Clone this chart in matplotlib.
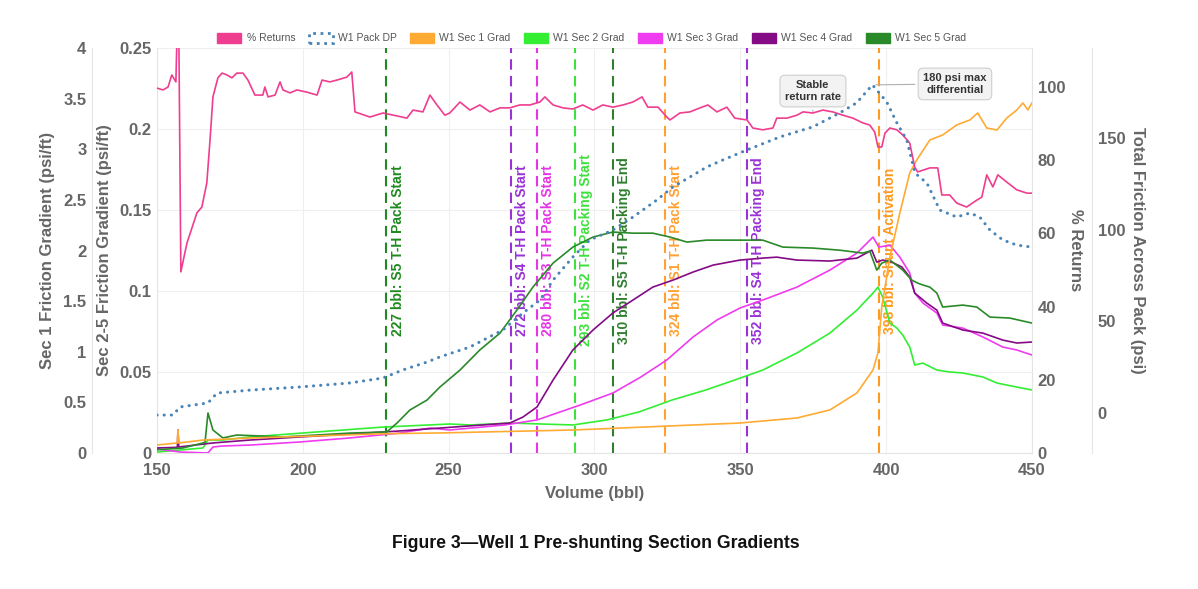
import matplotlib
matplotlib.use("Agg")
import matplotlib.pyplot as plt
from matplotlib.patches import Patch
from matplotlib.ticker import FuncFormatter

plt.rcParams['font.family'] = ['Liberation Sans', 'DejaVu Sans']

# ---- data ----
returns_vol = [150, 152.1, 153.8, 155.1, 156.5, 156.9, 157.5, 158.2, 160.3, 163.7, 165.4, 167.1, 168.2, 169.2,
               170.9, 172.3, 174.0, 175.7, 177.4, 179.5, 181.2, 183.6, 186.3, 187.0, 188.1, 190.5, 192.2, 193.2,
               195.6, 198.0, 201.4, 204.9, 206.6, 209.3, 211.7, 215.1, 216.8, 217.9, 223.0, 227.5, 232.3, 235.7,
               237.8, 241.2, 243.6, 246.0, 248.7, 250.4, 253.9, 257.3, 260.7, 264.2, 267.6, 271.0, 274.4, 277.9,
               281.3, 283.0, 285.8, 289.2, 292.6, 296.0, 299.5, 302.9, 306.3, 309.8, 313.2, 316.3, 318.3, 321.8,
               324.8, 325.9, 329.3, 332.7, 336.2, 338.9, 342.0, 345.4, 348.1, 352.3, 354.3, 357.7, 361.2, 362.5,
               366.0, 369.4, 371.5, 374.9, 378.3, 381.7, 385.2, 388.6, 392.0, 394.4, 396.1, 397.2, 398.5, 399.6,
               401.3, 403.7, 405.7, 408.1, 409.8, 410.8, 415.0, 417.7, 419.1, 421.8, 424.2, 427.6, 431.1, 432.8,
               434.5, 436.6, 438.3, 441.4, 444.8, 448.3, 450.0]
returns_pct = [99.7, 99.2, 100.0, 103.3, 101.4, 115, 115, 49.5, 57.4, 65.6, 67.2, 73.8, 85.5, 97.3,
               102.5, 103.8, 103.3, 102.5, 103.8, 103.8, 101.9, 97.8, 97.8, 100.0, 97.3, 97.8, 101.4, 99.2,
               98.4, 99.2, 98.6, 97.8, 101.9, 101.4, 101.9, 102.7, 104.1, 93.2, 91.8, 92.9, 92.1, 91.5,
               93.7, 93.2, 97.8, 95.1, 92.3, 92.9, 95.9, 93.7, 95.1, 93.2, 94.3, 94.3, 95.1, 95.1,
               95.9, 97.3, 95.1, 94.3, 94.0, 95.1, 93.7, 95.1, 94.5, 95.1, 95.9, 97.3, 94.5, 94.5,
               91.8, 91.0, 92.9, 93.2, 94.3, 95.1, 93.2, 94.5, 91.5, 91.0, 88.8, 88.3, 88.8, 91.5,
               91.5, 92.3, 93.2, 92.9, 93.7, 93.2, 92.3, 91.5, 90.2, 89.6, 87.7, 83.6, 83.6, 87.4,
               88.8, 88.3, 86.9, 84.7, 78.1, 76.8, 77.9, 77.9, 70.5, 70.5, 68.3, 67.2, 69.1, 69.9,
               76.0, 72.7, 76.0, 74.0, 71.9, 71.0, 71.0]

dp_vol = [150, 155.5, 157.9, 167.5, 170.6, 181.9, 199.0, 216.2, 227.5, 234.3, 242.6, 247.0, 257.3, 268.6,
          275.5, 281.3, 285.8, 292.6, 298.4, 306.3, 313.2, 321.4, 326.9, 332.7, 338.5, 344.0, 352.3, 363.6,
          374.9, 384.1, 389.9, 395.3, 396.8, 400.2, 403.7, 407.1, 409.9, 414.0, 418.4, 424.2, 428.7, 432.1,
          435.6, 440.0, 444.8, 450.0]
dp_psi = [-1.1, -1.1, 3.3, 5.5, 10.9, 12.5, 14.2, 16.4, 19.1, 23.5, 27.8, 30.6, 36.0, 45.3,
          54.6, 61.6, 72.5, 85.1, 94.4, 99.8, 106.9, 116.2, 123.3, 128.7, 134.2, 138.0, 143.5, 150.6,
          156.1, 163.7, 169.2, 179.0, 176.2, 169.7, 158.2, 148.9, 130.9, 125.4, 110.7, 106.9, 109.1, 106.9,
          99.8, 94.4, 91.6, 90.5]

sec1_vol = [150, 157.0, 157.2, 157.5, 165.8, 181.9, 227.5, 247.0, 292.6, 349.9, 369.4, 380.7, 390.0, 395.5,
            397.2, 398.5, 401.3, 404.7, 408.1, 410.5, 415.0, 419.4, 424.2, 428.7, 431.4, 434.5, 438.0, 441.4,
            444.8, 446.9, 448.6, 450.0]
sec1_grad = [0.079, 0.099, 0.227, 0.099, 0.128, 0.148, 0.190, 0.198, 0.227, 0.296, 0.346, 0.425, 0.593, 0.820,
             0.988, 1.442, 1.936, 2.370, 2.766, 2.894, 3.092, 3.141, 3.240, 3.289, 3.358, 3.210, 3.190, 3.309,
             3.388, 3.457, 3.388, 3.457]

sec2_vol = [150, 165.8, 167.5, 172.6, 181.9, 204.9, 227.5, 250.4, 257.3, 271.0, 292.6, 304.2, 315.2, 326.6,
            338.2, 348.0, 357.7, 369.4, 380.7, 390.0, 395.5, 397.2, 398.8, 401.3, 403.7, 405.7, 408.1, 409.8,
            412.6, 417.4, 421.8, 426.3, 433.2, 438.0, 444.8, 450.0]
sec2_grad = [0.0006, 0.0031, 0.0080, 0.0080, 0.0099, 0.0130, 0.0160, 0.0179, 0.0173, 0.0185, 0.0173, 0.0204,
             0.0253, 0.0327, 0.0389, 0.0450, 0.0512, 0.0617, 0.0740, 0.0882, 0.0987, 0.1024, 0.0963, 0.0802,
             0.0771, 0.0728, 0.0654, 0.0543, 0.0555, 0.0512, 0.0500, 0.0494, 0.0469, 0.0432, 0.0407, 0.0389]

sec3_vol = [150, 158.0, 167.5, 169.2, 172.3, 181.9, 199.0, 216.2, 233.2, 243.6, 250.4, 269.2, 280.3, 287.2,
            295.1, 306.3, 315.9, 324.8, 333.8, 342.0, 349.9, 357.7, 369.4, 380.7, 390.0, 395.5, 397.5, 401.3,
            404.7, 408.1, 409.8, 412.6, 417.4, 419.4, 426.3, 433.2, 440.0, 444.8, 450.0]
sec3_grad = [0.0025, 0.0006, 0.0, 0.0037, 0.0043, 0.0049, 0.0068, 0.0093, 0.0123, 0.0154, 0.0142, 0.0173,
             0.0204, 0.0247, 0.0296, 0.0370, 0.0469, 0.0574, 0.0716, 0.0821, 0.0895, 0.0944, 0.1024, 0.1129,
             0.1234, 0.1333, 0.1271, 0.1283, 0.1209, 0.1111, 0.0987, 0.0926, 0.0864, 0.0790, 0.0771, 0.0716,
             0.0654, 0.0636, 0.0605]

sec4_vol = [150, 157.0, 157.2, 157.5, 169.2, 181.9, 199.0, 216.2, 233.2, 247.0, 271.0, 275.5, 280.3, 285.8,
            292.6, 299.5, 306.3, 313.2, 320.0, 326.9, 333.8, 340.7, 349.9, 357.7, 362.5, 369.4, 380.7, 390.0,
            395.1, 396.8, 398.8, 402.0, 405.4, 408.1, 409.8, 413.9, 417.4, 419.4, 426.3, 433.2, 440.0, 444.8,
            450.0]
sec4_grad = [0.0031, 0.0035, 0.0142, 0.0037, 0.0062, 0.0080, 0.0099, 0.0117, 0.0136, 0.0154, 0.0185, 0.0222,
             0.0284, 0.0450, 0.0636, 0.0759, 0.0864, 0.0944, 0.1024, 0.1067, 0.1117, 0.1160, 0.1191, 0.1203,
             0.1209, 0.1191, 0.1185, 0.1203, 0.1252, 0.1178, 0.1191, 0.1178, 0.1148, 0.1086, 0.0987, 0.0926,
             0.0882, 0.0802, 0.0759, 0.0740, 0.0697, 0.0679, 0.0685]

sec5_vol = [150, 158.9, 165.8, 166.5, 167.5, 169.2, 172.6, 177.4, 193.2, 216.2, 228.8, 232.3, 236.7, 242.6,
            247.0, 253.9, 260.7, 267.6, 273.4, 278.9, 285.8, 292.6, 299.5, 306.3, 313.2, 320.0, 325.9, 331.7,
            338.5, 349.9, 357.7, 364.6, 374.9, 384.1, 392.0, 394.4, 396.8, 398.5, 401.3, 405.7, 408.8, 410.8,
            412.6, 415.0, 417.4, 419.4, 426.3, 431.1, 435.6, 442.4, 450.0]
sec5_grad = [0.002, 0.0031, 0.0062, 0.0068, 0.0247, 0.0142, 0.0093, 0.0111, 0.0099, 0.0123, 0.0130, 0.0185,
             0.0265, 0.0327, 0.0407, 0.0512, 0.0636, 0.0740, 0.0882, 0.1024, 0.1172, 0.1271, 0.1333, 0.1364,
             0.1357, 0.1357, 0.1333, 0.1302, 0.1314, 0.1314, 0.1314, 0.1271, 0.1265, 0.1252, 0.1234, 0.1246,
             0.1129, 0.1172, 0.1191, 0.1129, 0.1067, 0.1049, 0.1037, 0.1024, 0.0987, 0.0901, 0.0913, 0.0901,
             0.0839, 0.0833, 0.0802]

event_vol = [228.7, 271.3, 280.2, 293.3, 306.4, 324.2, 352.2, 397.5]
event_text = ["227 bbl: S5 T-H Pack Start", "272 bbl: S4 T-H Pack Start", "280 bbl: S3 T-H Pack Start",
              "293 bbl: S2 T-H Packing Start", "310 bbl: S5 T-H Packing End", "324 bbl: S1 T-H Pack Start",
              "352 bbl: S4 T-H Packing End", "398 bbl: Shunt Activation"]
event_color = ['#1f8a1f', '#9a32d6', '#e535e5', '#3ee03e', '#2f7f2f', '#ffa033', '#9a32d6', '#ff9a1f']

# ---- colours ----
c_ret = '#ef3d8f'
c_dp = '#4a84b4'
c_s1 = '#ffaa33'
c_s2 = '#33ee33'
c_s3 = '#f03cf0'
c_s4 = '#850a85'
c_s5 = '#2a8a2a'
grey = '#666666'
fs = 12

fig = plt.figure(figsize=(11.98, 5.89), dpi=100)
ax = fig.add_axes([0.131, 0.2309, 0.7304, 0.6876])
ax1 = ax.twinx()
axr = ax.twinx()
axd = ax.twinx()

for a in (ax, ax1, axr, axd):
    for s in a.spines.values():
        s.set_visible(False)
        s.set_color('#e4e4e4')
    a.tick_params(length=0, labelsize=fs, labelcolor=grey)

# event markers
for v, t, c in zip(event_vol, event_text, event_color):
    ax.axvline(v, color=c, lw=1.5, ls=(0, (5, 3)), zorder=1)
    ax.annotate(t, xy=(v, 0.5), xycoords=('data', 'axes fraction'), xytext=(3, 0),
                textcoords='offset points', rotation=90, ha='left', va='center',
                fontsize=10, fontweight='bold', color=c, zorder=1)

# main axis: sec 2-5
ax.plot(sec2_vol, sec2_grad, color=c_s2, lw=1.2, zorder=3)
ax.plot(sec3_vol, sec3_grad, color=c_s3, lw=1.2, zorder=3)
ax.plot(sec4_vol, sec4_grad, color=c_s4, lw=1.2, zorder=3)
ax.plot(sec5_vol, sec5_grad, color=c_s5, lw=1.2, zorder=3)
ax.set_xlim(150, 450)
ax.set_ylim(0, 0.25)
ax.set_xticks(range(150, 451, 50))
ax.set_yticks([0, 0.05, 0.1, 0.15, 0.2, 0.25])
ax.yaxis.set_major_formatter(FuncFormatter(lambda v, p: '%g' % round(v, 2)))
ax.grid(True, color='#efefef', lw=0.8)
ax.set_axisbelow(True)
ax.spines['left'].set_visible(True)
ax.spines['bottom'].set_visible(True)
ax.tick_params(axis='y', pad=4)
ax.tick_params(axis='x', pad=7)
for lab in ax.get_xticklabels() + ax.get_yticklabels():
    lab.set_fontweight('bold')
ax.set_xlabel('Volume (bbl)', fontsize=fs, fontweight='bold', color=grey, labelpad=6)
ax.set_ylabel('Sec 2-5 Friction Gradient (psi/ft)', fontsize=fs, fontweight='bold', color=grey, labelpad=5)

# sec 1 on outer left axis (65 px left of the plot)
ax1.plot(sec1_vol, sec1_grad, color=c_s1, lw=1.2)
ax1.set_ylim(0, 4)
ax1.yaxis.tick_left()
ax1.yaxis.set_label_position('left')
ax1.spines['left'].set_visible(True)
ax1.spines['left'].set_position(('outward', 65 * 0.72))
ax1.set_yticks([0, 0.5, 1, 1.5, 2, 2.5, 3, 3.5, 4])
ax1.yaxis.set_major_formatter(FuncFormatter(lambda v, p: '%g' % v))
ax1.tick_params(axis='y', pad=4)
for lab in ax1.get_yticklabels():
    lab.set_fontweight('bold')
ax1.set_ylabel('Sec 1 Friction Gradient (psi/ft)', fontsize=fs, fontweight='bold', color=grey, labelpad=6)

# returns
axr.plot(returns_vol, returns_pct, color=c_ret, lw=1.2)
axr.set_ylim(0, 110.66)
axr.set_yticks([0, 20, 40, 60, 80, 100])
axr.spines['right'].set_visible(True)
axr.tick_params(axis='y', pad=4)
for lab in axr.get_yticklabels():
    lab.set_fontweight('bold')
axr.set_ylabel('% Returns', fontsize=fs, fontweight='bold', color=grey, rotation=270, labelpad=13)

# pack DP (60 px right of the plot)
axd.plot(dp_vol, dp_psi, color=c_dp, lw=2.2, ls=(0, (0.05, 2.3)), dash_capstyle='round')
axd.set_ylim(-21.8, 199.1)
axd.set_yticks([0, 50, 100, 150])
axd.spines['right'].set_visible(True)
axd.spines['right'].set_position(('outward', 60 * 0.72))
axd.tick_params(axis='y', pad=4)
for lab in axd.get_yticklabels():
    lab.set_fontweight('bold')
axd.set_ylabel('Total Friction Across Pack (psi)', fontsize=fs, fontweight='bold', color=grey,
               rotation=270, labelpad=14)

# callouts
box = dict(boxstyle='round,pad=0.45', fc='#f3f3f3', ec='#cfcfcf', lw=0.8)
axr.annotate('Stable\nreturn rate', xy=(374.9, 93.3), xytext=(374.9, 98.9), ha='center', va='center',
             fontsize=8, fontweight='bold', color='#333333', bbox=box,
             arrowprops=dict(arrowstyle='-', color='#b0b0b0', lw=0.8))
axd.annotate('180 psi max\ndifferential', xy=(395.5, 179), xytext=(423.6, 179.5), ha='center', va='center',
             fontsize=8, fontweight='bold', color='#333333', bbox=box,
             arrowprops=dict(arrowstyle='-', color='#b0b0b0', lw=0.8))

# legend
handles = [Patch(fc=c_ret, ec=c_ret),
           Patch(fill=False, ec=c_dp, ls=':', lw=2),
           Patch(fc=c_s1, ec=c_s1), Patch(fc=c_s2, ec=c_s2), Patch(fc=c_s3, ec=c_s3),
           Patch(fc=c_s4, ec=c_s4), Patch(fc=c_s5, ec=c_s5)]
labels = ['% Returns', 'W1 Pack DP', 'W1 Sec 1 Grad', 'W1 Sec 2 Grad', 'W1 Sec 3 Grad',
          'W1 Sec 4 Grad', 'W1 Sec 5 Grad']
leg = fig.legend(handles, labels, loc='center', bbox_to_anchor=(0.494, 0.9355), ncol=7, frameon=False,
                 fontsize=7.5, handlelength=2.3, handleheight=1.1, columnspacing=1.3, handletextpad=0.5)
for t in leg.get_texts():
    t.set_color('#555555')

fig.text(0.4975, 0.078, 'Figure 3\u2014Well 1 Pre-shunting Section Gradients', ha='center', va='center',
         fontsize=12.7, fontweight='bold', color='#111111')

fig.savefig('out.png', dpi=100)
